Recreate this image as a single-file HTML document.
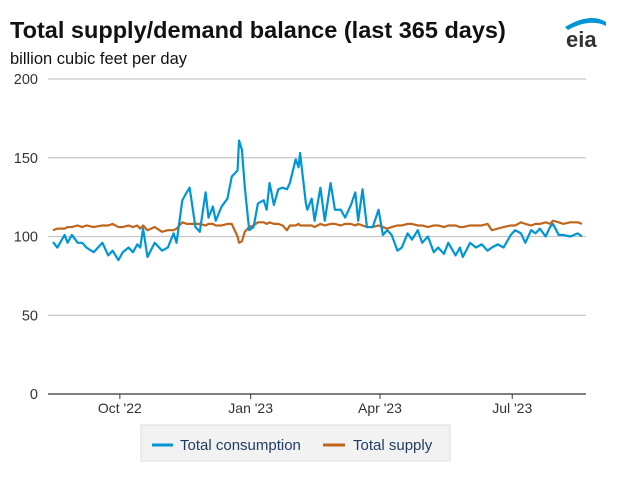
<!DOCTYPE html>
<html><head><meta charset="utf-8"><style>
body{margin:0;background:#fff;font-family:"Liberation Sans",Arial,sans-serif}
svg text{font-family:"Liberation Sans",Arial,sans-serif}
</style></head><body>
<svg id="c" width="618" height="474" viewBox="0 0 618 474" xmlns="http://www.w3.org/2000/svg">
<text x="10" y="38" font-size="23.5" font-weight="bold" fill="#111">Total supply/demand balance (last 365 days)</text>
<text x="10" y="64" font-size="16.5" fill="#111">billion cubic feet per day</text>
<g>
<path d="M565 27 Q590 12 606 22 L606 26 Q590 18 568 30 Z" fill="#0096d6"/>
<text x="566" y="47" font-size="22" font-weight="bold" fill="#333">eia</text>
</g>
<g id="grid"></g><g id="series"></g><g id="axes"></g>
<g>
<rect x="141" y="425" width="309" height="36" fill="#f2f2f2" stroke="#dcdcdc"/>
<line x1="152" y1="445" x2="173" y2="445" stroke="#0096d6" stroke-width="3"/>
<text x="180" y="450" font-size="15" fill="#1f3a5f">Total consumption</text>
<line x1="323" y1="445" x2="345" y2="445" stroke="#c0661c" stroke-width="3"/>
<text x="353" y="450" font-size="15" fill="#1f3a5f">Total supply</text>
</g>
</svg>
<script>
const days=[0,3,8,10,13,17,20,23,28,34,38,41,45,48,52,55,58,60,62,65,70,75,79,83,85,89,92,94,98,101,105,107,110,112,116,120,123,127,128,130,132,135,138,141,145,147,149,152,155,158,161,163,167,169,170,174,175,178,180,184,187,191,194,198,201,205,208,210,213,216,220,224,227,230,233,237,240,244,247,251,254,258,262,265,269,272,277,280,282,287,291,295,299,302,306,310,315,318,322,325,329,332,335,339,342,344,348,351,356,361,364];
const consumption=[96.5,93,101,96,101,96,96,93,90,96,88,91,85,90,93,90,95,93,105,87,96,91,93,102,96,123,128,131,106,103,128,112,119,110,119,124,138,142,161,155,131,104,106,121,123,117,134,120,130,131,130,134,149,144,153,121,117,124,110,131,110,134,117,117,112,120,128,110,130,106,106,117,101,104,101,91,93,102,98,104,96,100,90,93,89,96,88,93,87,96,93,95,91,93,95,93,101,104,102,96,104,102,105,100,106,108,101,101,100,102,100];
const supply=[104,105,105,106,106,107,106,107,106,107,107,108,106,106,107,106,107,105,107,104,106,103,104,104,105,109,108,108,108,108,107,108,108,107,107,108,108,100,96,97,103,106,107,109,109,108,109,108,108,107,104,107,107,108,107,107,107,107,106,108,107,108,108,107,108,108,107,108,107,106,106,107,106,105,106,107,107,108,108,107,107,106,107,107,106,107,107,106,106,107,107,107,108,104,105,106,107,107,109,108,107,108,108,109,108,110,109,108,109,109,108];
const yTicks=[0,50,100,150,200];
const xTickDays=[46,136,225,316];
const xTickLabels=["Oct '22","Jan '23","Apr '23","Jul '23"];
const NS="http://www.w3.org/2000/svg";
const X=d=>53+d*(529/364);
const Y=v=>394-v*(315/200);
function mk(t,a,p){const e=document.createElementNS(NS,t);for(const k in a)e.setAttribute(k,a[k]);p.appendChild(e);return e;}
const grid=document.getElementById('grid'),ser=document.getElementById('series'),ax=document.getElementById('axes');
yTicks.forEach(v=>{
 if(v>0){const l=mk('line',{x1:48,x2:586,y1:Y(v),y2:Y(v),stroke:'#c8c8c8','stroke-width':1.3},grid);
 
 }
 const t=mk('text',{x:38,y:Y(v)+5,'font-size':14.5,fill:'#333','text-anchor':'end'},ax);t.textContent=v;
 
 
});
const axl=mk('line',{x1:48,x2:586,y1:394,y2:394,stroke:'#333','stroke-width':1.3},ax);


xTickDays.forEach((d,i)=>{
 mk('line',{x1:X(d),x2:X(d),y1:394,y2:399,stroke:'#333'},ax);
 const t=mk('text',{x:X(d),y:413,'font-size':14,fill:'#333','text-anchor':'middle'},ax);t.textContent=xTickLabels[i];
 
 
});
function line(vals,col,name){
 const p=mk('polyline',{points:days.map((d,i)=>X(d)+','+Y(vals[i])).join(' '),fill:'none',stroke:col,'stroke-width':2.2,'stroke-linejoin':'round'},ser);
 
 
}
line(supply,'#c0661c','supply-line');
line(consumption,'#0096d6','consumption-line');
</script>
</body></html>
